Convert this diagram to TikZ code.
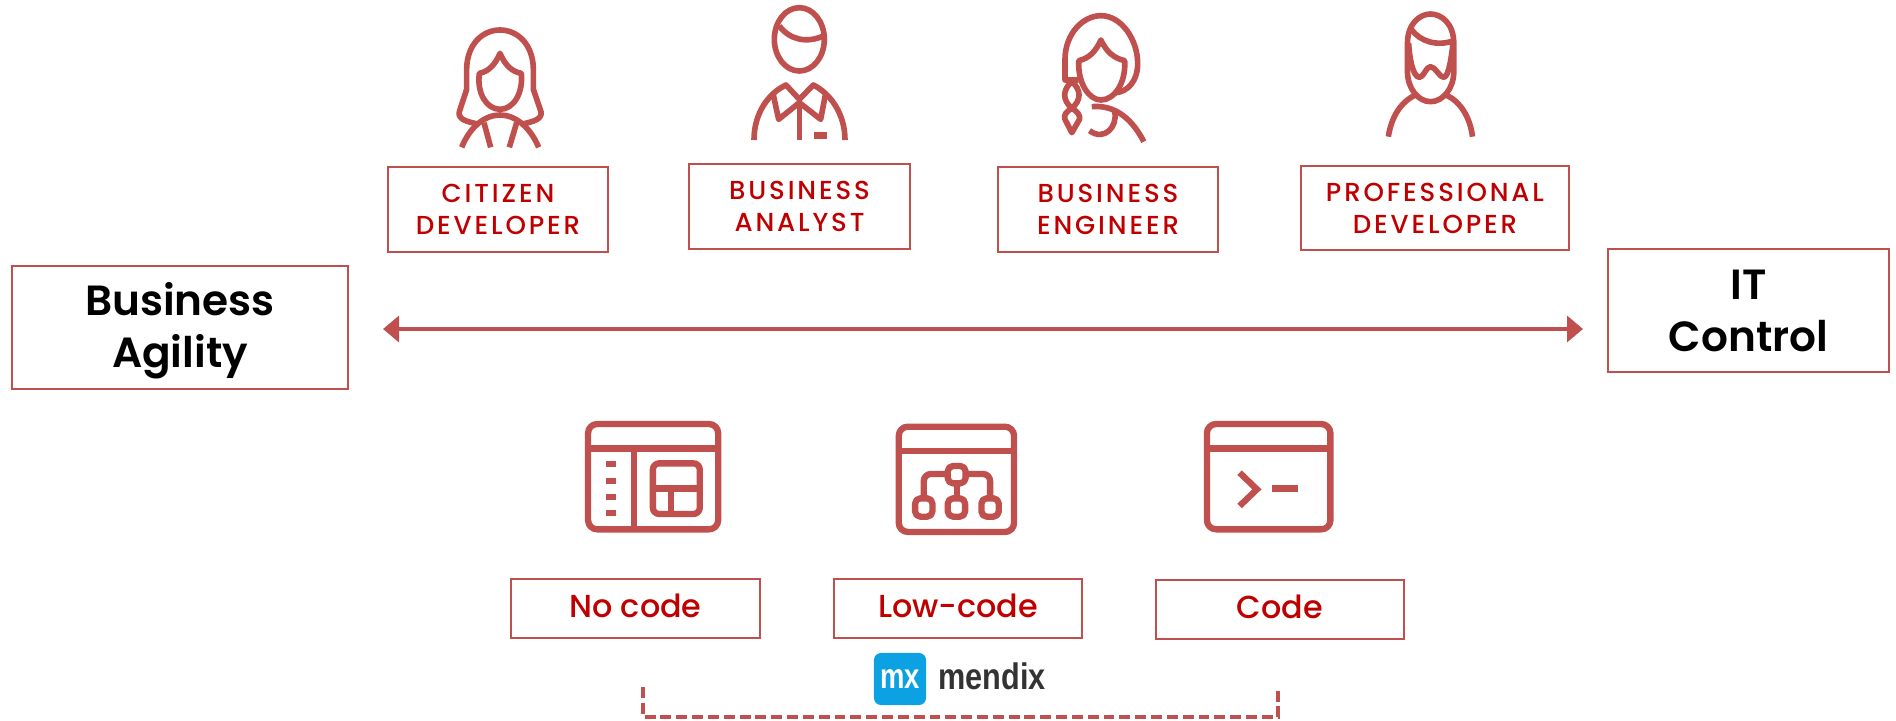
\documentclass[tikz,border=0pt]{standalone}
\usepackage{fontspec}
\setmainfont{Poppins}
\newfontfamily\rolefont[LetterSpace=11]{Poppins Medium}
\newfontfamily\headfont{Poppins SemiBold}
\newfontfamily\codefont{Poppins Medium}
\newfontfamily\logofont{Liberation Sans}
\usetikzlibrary{arrows.meta}
\definecolor{strokered}{HTML}{C0504D}
\definecolor{labelred}{HTML}{C00000}
\definecolor{logoblue}{HTML}{0CA1E2}
\definecolor{logodark}{HTML}{333333}
\tikzset{
    labelbox/.style={draw=strokered,line width=0.6pt,inner sep=0pt,align=center},
    rolebox/.style={labelbox,text=labelred,font=\rolefont\fontsize{7.4}{9.1}\selectfont},
    headbox/.style={labelbox,text=black,text depth=1.3pt,font=\headfont\fontsize{12}{14.7}\selectfont},
    codebox/.style={labelbox,text=labelred,text depth=1.4pt,font=\codefont\fontsize{9.05}{11}\selectfont},
    icon/.style={draw=strokered,line width=1.6pt,line join=round},
    iconfill/.style={fill=strokered},
    biarrow/.style={draw=strokered,line width=1pt,{Triangle[length=0.16cm,width=0.26cm]}-{Triangle[length=0.16cm,width=0.26cm]}},
    dashbracket/.style={draw=strokered,line width=1.15pt,dash pattern=on 3.1pt off 1.4pt}
}
\begin{document}
\begin{tikzpicture}[x=0.01cm,y=-0.01cm]
    \useasboundingbox (0,0) rectangle (1896,721);

    \node[rolebox,minimum width=2.20cm,minimum height=0.85cm] (citizen) at (498,209.5) {CITIZEN\\DEVELOPER};
    \node[rolebox,minimum width=2.20cm,minimum height=0.85cm] (analyst) at (799.5,206.5) {BUSINESS\\ANALYST};
    \node[rolebox,minimum width=2.20cm,minimum height=0.85cm] (engineer) at (1108,209.5) {BUSINESS\\ENGINEER};
    \node[rolebox,minimum width=2.67cm,minimum height=0.84cm] (professional) at (1435,208) {PROFESSIONAL\\DEVELOPER};

    \node[headbox,minimum width=3.36cm,minimum height=1.23cm] (agility) at (180,327.5) {Business\\Agility};
    \node[headbox,minimum width=2.81cm,minimum height=1.23cm,text depth=-0.7pt] (control) at (1748.5,310.5) {IT\\Control};

    \coordinate (arrowL) at (383,329);
    \coordinate (arrowR) at (1583,329);
    \draw[biarrow] (arrowL) -- (arrowR);

    \node[codebox,minimum width=2.48cm,minimum height=0.59cm] (nocode) at (635.5,608.5) {No code};
    \node[codebox,minimum width=2.48cm,minimum height=0.59cm] (lowcode) at (958,608.5) {Low-code};
    \node[codebox,minimum width=2.48cm,minimum height=0.59cm] (code) at (1280,609.5) {Code};

    \begin{scope}[shift={(380,0)},scale=1/3]
        \draw[icon] (292,372) .. controls (262,365) and (232,358) .. (238,335) -- (260,268) -- (260,205)
            .. controls (262,130) and (310,90) .. (360,90) .. controls (410,90) and (458,130) .. (460,205)
            -- (460,268) -- (483,335) .. controls (488,358) and (458,365) .. (428,372);
        \draw[icon] (360,160) .. controls (345,195) and (325,215) .. (298,220)
            .. controls (290,280) and (320,328) .. (360,328) .. controls (400,328) and (430,280) .. (424,220)
            .. controls (395,215) and (375,195) .. (360,160) -- cycle;
        \draw[icon] (245,442) .. controls (270,380) and (315,345) .. (360,345) .. controls (405,345) and (450,380) .. (476,442);
        \draw[icon] (312,368) -- (332,442);
        \draw[icon] (410,368) -- (388,442);

        \draw[icon] (1258,118) ellipse (75 and 95);
        \draw[icon] (1198,78) .. controls (1230,120) and (1280,130) .. (1330,108);
        \draw[icon] (1122,420) .. controls (1122,340) and (1165,280) .. (1218,255) -- (1258,298) -- (1300,255)
            .. controls (1350,280) and (1395,340) .. (1395,420);
        \draw[icon] (1180,285) -- (1196,358) -- (1258,308) -- (1322,358) -- (1336,285);
        \draw[icon] (1258,298) -- (1258,420);
        \fill[iconfill] (1302,397) rectangle (1342,416);
    \end{scope}

    \begin{scope}[shift={(980,0)},xscale=0.3827,yscale=1/3]
        \draw[icon] (355,278) .. controls (385,275) and (412,245) .. (412,190) .. controls (412,120) and (370,47) .. (316,47)
            .. controls (270,47) and (222,100) .. (222,180) -- (222,240) -- (258,240);
        \draw[icon] (316,120) .. controls (302,155) and (285,175) .. (258,182) .. controls (255,250) and (285,300) .. (316,300)
            .. controls (350,300) and (382,250) .. (378,182) .. controls (350,175) and (330,155) .. (316,120) -- cycle;
        \draw[icon] (240,245) .. controls (215,270) and (215,300) .. (240,325) .. controls (265,300) and (265,270) .. (240,245) -- cycle;
        \draw[icon] (240,325) .. controls (225,335) and (218,345) .. (222,358) -- (240,398) -- (260,358) .. controls (262,345) and (255,335) .. (240,325) -- cycle;
        \draw[icon] (292,320) .. controls (340,315) and (390,340) .. (428,425);
        \draw[icon] (352,335) .. controls (360,380) and (325,425) .. (286,392);

        \draw[icon] (1117,130) .. controls (1117,70) and (1150,42) .. (1177,42) .. controls (1205,42) and (1238,70) .. (1238,130)
            -- (1238,215) .. controls (1238,265) and (1210,305) .. (1177,305) .. controls (1145,305) and (1117,265) .. (1117,215) -- cycle;
        \draw[icon] (1127,88) .. controls (1150,125) and (1195,140) .. (1238,122);
        \draw[icon] (1120,130) .. controls (1122,170) and (1130,230) .. (1148,232) .. controls (1160,232) and (1165,200) .. (1177,200)
            .. controls (1190,200) and (1200,232) .. (1212,232) .. controls (1225,230) and (1232,170) .. (1236,130);
        \draw[icon] (1067,410) .. controls (1075,350) and (1100,305) .. (1138,285);
        \draw[icon] (1218,285) .. controls (1255,305) and (1280,350) .. (1287,410);
    \end{scope}

    \begin{scope}[shift={(560,410)},xscale=0.5102,yscale=1/3,icon/.append style={line width=1.8pt}]
        \draw[icon,rounded corners=2.6pt] (55,42) rectangle (310,358);
        \draw[icon] (55,115) -- (310,115);
        \draw[icon] (145,115) -- (145,358);
        \foreach \doty in {163,212,260,308}
            \fill[iconfill] (90,\doty-9) rectangle (110,\doty+9);
        \draw[icon,rounded corners=1.8pt] (182,160) rectangle (274,312);
        \draw[icon] (182,235) -- (274,235);
        \draw[icon] (218,235) -- (218,312);

        \draw[icon,rounded corners=2.6pt] (664,50) rectangle (890,366);
        \draw[icon] (664,122) -- (890,122);
        \draw[icon,rounded corners=1.5pt] (760,168) rectangle (795,220);
        \foreach \boxx in {696,760,826}
            \draw[icon,rounded corners=1.5pt] (\boxx,265) rectangle (\boxx+34,320);
        \draw[icon] (778,220) -- (778,265);
        \draw[icon,rounded corners=2pt] (760,192) -- (713,192) -- (713,265);
        \draw[icon,rounded corners=2pt] (795,192) -- (843,192) -- (843,265);

        \draw[icon,rounded corners=2.6pt] (1268,42) rectangle (1510,358);
        \draw[icon] (1268,115) -- (1510,115);
        \draw[icon,line join=miter] (1332,188) -- (1366,238) -- (1332,288);
        \fill[iconfill] (1396,226) rectangle (1446,246);
    \end{scope}

    \node[fill=logoblue,rounded corners=2pt,minimum size=0.52cm,inner sep=0pt,text=white,font=\logofont\bfseries\fontsize{10}{10}\selectfont] (mxlogo) at (900,679) {\scalebox{0.78}[1]{mx}};
    \node[inner sep=0pt,text=logodark,anchor=west,font=\logofont\bfseries\fontsize{10.5}{10.5}\selectfont] (mendix) at (938,676) {\scalebox{0.83}[1]{mendix}};

    \coordinate (bracketL) at (643,687);
    \coordinate (bracketR) at (1278,687);
    \draw[dashbracket] (bracketL) -- ++(0,30) -| (bracketR);
\end{tikzpicture}
\end{document}
